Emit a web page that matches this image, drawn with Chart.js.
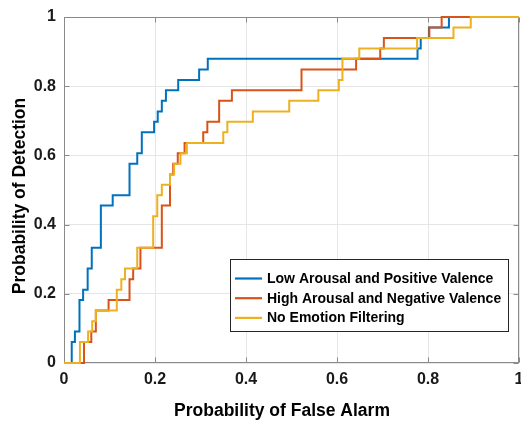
<!DOCTYPE html>
<html>
<head>
<meta charset="utf-8">
<script src="https://cdn.jsdelivr.net/npm/chart.js@4.4.1/dist/chart.umd.min.js"></script>
<style>
  html, body { margin: 0; padding: 0; background: #fff; }
</style>
</head>
<body>
<canvas id="myChart" width="521" height="421"></canvas>
<script>
// series (step points: false alarm where the jump happens, new detection value)
var seriesNames = ['Low Arousal and Positive Valence', 'High Arousal and Negative Valence', 'No Emotion Filtering'];
var seriesColors = ['#0072BD', '#D95319', '#EDB120'];

var lowPosFa = [0, 0.017, 0.024, 0.034, 0.042, 0.052, 0.061, 0.081, 0.107, 0.144, 0.161, 0.171, 0.198, 0.206, 0.215, 0.224, 0.251, 0.297, 0.316, 0.777, 0.784, 0.802, 0.846, 1];
var lowPosPd = [0, 0.061, 0.091, 0.182, 0.212, 0.273, 0.333, 0.455, 0.485, 0.576, 0.606, 0.667, 0.697, 0.727, 0.758, 0.788, 0.818, 0.848, 0.879, 0.909, 0.939, 0.970, 1, 1];

var highNegFa = [0, 0.044, 0.060, 0.070, 0.098, 0.144, 0.152, 0.168, 0.215, 0.233, 0.240, 0.250, 0.265, 0.306, 0.315, 0.341, 0.369, 0.522, 0.642, 0.695, 0.703, 0.803, 0.830, 1];
var highNegPd = [0, 0.061, 0.091, 0.152, 0.182, 0.242, 0.273, 0.333, 0.455, 0.545, 0.576, 0.606, 0.636, 0.667, 0.697, 0.758, 0.788, 0.848, 0.879, 0.909, 0.939, 0.970, 1, 1];

var noFilterFa = [0, 0.035, 0.053, 0.062, 0.070, 0.116, 0.126, 0.134, 0.161, 0.196, 0.205, 0.215, 0.233, 0.242, 0.256, 0.270, 0.350, 0.359, 0.415, 0.495, 0.559, 0.604, 0.612, 0.649, 0.776, 0.856, 0.894, 1];
var noFilterPd = [0, 0.061, 0.091, 0.121, 0.152, 0.212, 0.242, 0.273, 0.333, 0.424, 0.485, 0.515, 0.545, 0.576, 0.606, 0.636, 0.667, 0.697, 0.727, 0.758, 0.788, 0.818, 0.879, 0.909, 0.939, 0.970, 1, 1];

var xTickLabels = ['0', '0.2', '0.4', '0.6', '0.8', '1'];
var yTickLabels = ['0', '0.2', '0.4', '0.6', '0.8', '1'];
var xTitle = 'Probability of False Alarm';
var yTitle = 'Probability of Detection';

function toPoints(xs, ys) {
    var pts = [];
    for (var i = 0; i < xs.length; i++) {
        pts.push({ x: xs[i], y: ys[i] });
    }
    return pts;
}

var tickFont = { family: '"Liberation Sans", Arial, sans-serif', size: 16, weight: 'bold' };

// box and inward ticks go under the curves, legend and axis titles on top
var frameAndLegend = {
    id: 'frameAndLegend',
    beforeDatasetsDraw: function(chart) {
        var ctx = chart.ctx;
        var a = chart.chartArea;
        var xs = chart.scales.x, ys = chart.scales.y;
        var L = Math.round(a.left) + 0.5, R = Math.round(a.right) - 0.5;
        var T = Math.round(a.top) + 0.5, B = Math.round(a.bottom) - 0.5;
        ctx.save();
        ctx.strokeStyle = '#8a8a8a';
        ctx.lineWidth = 1;
        ctx.strokeRect(L, T, R - L, B - T);
        ctx.beginPath();
        xs.ticks.forEach(function(t) {
            var px = Math.round(xs.getPixelForValue(t.value)) + 0.5;
            ctx.moveTo(px, B); ctx.lineTo(px, B - 5);
            ctx.moveTo(px, T); ctx.lineTo(px, T + 5);
        });
        ys.ticks.forEach(function(t) {
            var py = Math.round(ys.getPixelForValue(t.value)) + 0.5;
            ctx.moveTo(L, py); ctx.lineTo(L + 5, py);
            ctx.moveTo(R, py); ctx.lineTo(R - 5, py);
        });
        ctx.stroke();
        ctx.restore();
    },
    afterDraw: function(chart) {
        var ctx = chart.ctx;
        ctx.save();

        // legend
        var bx = 230.5, by = 259.5, bw = 278, bh = 72;
        ctx.fillStyle = '#fff';
        ctx.fillRect(bx, by, bw, bh);
        ctx.strokeStyle = '#262626';
        ctx.lineWidth = 1;
        ctx.strokeRect(bx, by, bw, bh);
        ctx.font = 'bold 14px "Liberation Sans", Arial, sans-serif';
        ctx.textBaseline = 'middle';
        ctx.textAlign = 'left';
        seriesNames.forEach(function(name, i) {
            var ry = 278.5 + i * 19.7;
            ctx.strokeStyle = seriesColors[i];
            ctx.lineWidth = 2.2;
            ctx.beginPath();
            ctx.moveTo(235, ry); ctx.lineTo(262, ry);
            ctx.stroke();
            ctx.fillStyle = '#000';
            ctx.fillText(name, 267, ry + 0.5);
        });

        // axis titles
        ctx.fillStyle = '#000';
        ctx.font = 'bold 17.5px "Liberation Sans", Arial, sans-serif';
        ctx.textAlign = 'center';
        ctx.fillText(xTitle, 282, 411);
        ctx.translate(20, 196);
        ctx.rotate(-Math.PI / 2);
        ctx.fillText(yTitle, 0, 0);

        ctx.restore();
    }
};

var ctx = document.getElementById('myChart').getContext('2d');
var myChart = new Chart(ctx, {
    type: 'scatter',
    data: {
        datasets: [
            { label: seriesNames[0], data: toPoints(lowPosFa, lowPosPd), borderColor: seriesColors[0], order: 2 },
            { label: seriesNames[1], data: toPoints(highNegFa, highNegPd), borderColor: seriesColors[1], order: 1 },
            { label: seriesNames[2], data: toPoints(noFilterFa, noFilterPd), borderColor: seriesColors[2], order: 0 }
        ].map(function(ds) {
            ds.showLine = true;
            ds.stepped = true;
            ds.borderWidth = 2;
            ds.pointRadius = 0;
            ds.fill = false;
            ds.clip = 4;
            return ds;
        })
    },
    options: {
        responsive: false,
        animation: false,
        devicePixelRatio: 1,
        layout: { padding: { left: 0, right: 2, top: 17, bottom: 0 } },
        plugins: {
            legend: { display: false },
            tooltip: { enabled: false }
        },
        scales: {
            x: {
                type: 'linear',
                min: 0,
                max: 1,
                afterFit: function(s) { s.height = 58; s.paddingLeft = 0; s.paddingRight = 0; },
                ticks: {
                    stepSize: 0.2,
                    padding: 7,
                    color: '#1a1a1a',
                    font: tickFont,
                    maxRotation: 0,
                    autoSkip: false,
                    callback: function(v, i) { return xTickLabels[i]; }
                },
                grid: { color: '#e6e6e6', drawTicks: false },
                border: { display: false }
            },
            y: {
                type: 'linear',
                min: 0,
                max: 1,
                afterFit: function(s) { s.width = 64; s.paddingTop = 0; s.paddingBottom = 0; },
                ticks: {
                    stepSize: 0.2,
                    padding: 8,
                    color: '#1a1a1a',
                    font: tickFont,
                    autoSkip: false,
                    callback: function(v, i) { return yTickLabels[i]; }
                },
                grid: { color: '#e6e6e6', drawTicks: false },
                border: { display: false }
            }
        }
    },
    plugins: [frameAndLegend]
});
</script>
</body>
</html>
